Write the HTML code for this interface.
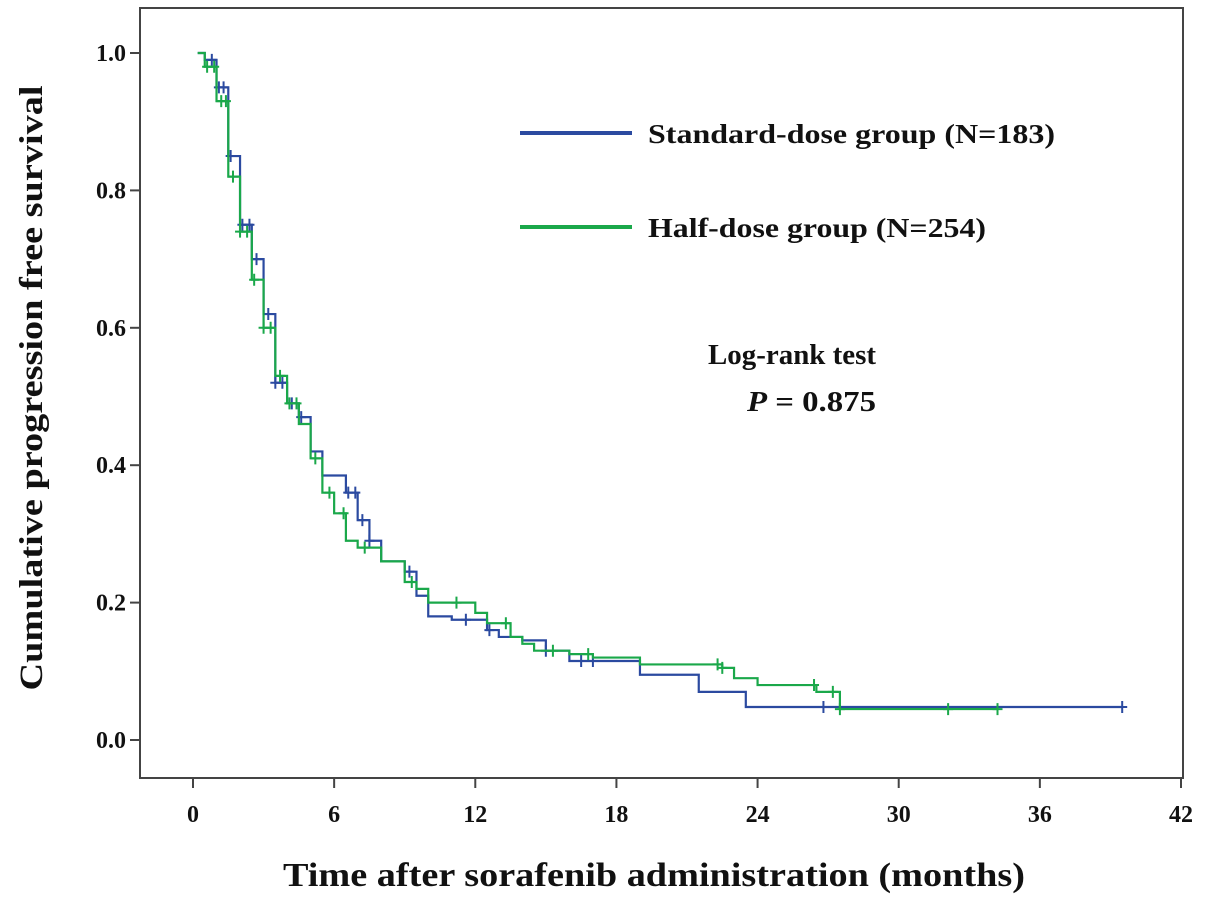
<!DOCTYPE html>
<html><head><meta charset="utf-8"><style>
body{margin:0;background:#fff}
svg text{font-family:"Liberation Serif",serif;font-weight:bold;fill:#111}
</style></head><body>
<svg id="chart" width="1205" height="905" viewBox="0 0 1205 905">
<rect x="140" y="8" width="1043" height="770" fill="#fff" stroke="#444" stroke-width="2"/>
<g id="axes"></g>
<g id="curves"></g>
<g>
<line x1="520" y1="133" x2="632" y2="133" stroke="#2b4aa0" stroke-width="4"/>
<text x="648" y="143" font-size="27" textLength="407" lengthAdjust="spacingAndGlyphs">Standard-dose group (N=183)</text>
<line x1="520" y1="227" x2="632" y2="227" stroke="#1aa84a" stroke-width="4"/>
<text x="648" y="237" font-size="27" textLength="338" lengthAdjust="spacingAndGlyphs">Half-dose group (N=254)</text>
</g>
<text x="708" y="364" font-size="28" textLength="168" lengthAdjust="spacingAndGlyphs">Log-rank test</text>
<text x="747" y="411" font-size="28" textLength="129" lengthAdjust="spacingAndGlyphs"><tspan font-style="italic">P</tspan> = 0.875</text>
<text transform="translate(42,388) rotate(-90)" font-size="33" text-anchor="middle" textLength="605" lengthAdjust="spacingAndGlyphs">Cumulative progression free survival</text>
<text x="654" y="886" font-size="34" text-anchor="middle" textLength="742" lengthAdjust="spacingAndGlyphs">Time after sorafenib administration (months)</text>
</svg>
<script>
const xTicks=[0,6,12,18,24,30,36,42];
const yTicks=[0.0,0.2,0.4,0.6,0.8,1.0];
const stdTimes=[0.2,0.5,1,1.5,2,2.5,3,3.5,4,4.5,5,5.5,6.5,7,7.5,8,9,9.5,10,11,12.5,13,14,15,16,19,21.5,23.5,39.5];
const stdSurv=[1,0.99,0.95,0.85,0.75,0.70,0.62,0.52,0.49,0.47,0.42,0.385,0.36,0.32,0.29,0.26,0.245,0.21,0.18,0.175,0.16,0.15,0.145,0.13,0.115,0.095,0.07,0.048,0.048];
const stdCens=[0.8,1.1,1.3,1.6,2.1,2.4,2.7,3.2,3.5,3.8,4.2,4.6,6.6,6.9,7.2,7.5,9.2,11.6,12.6,15,16.5,17,26.8,39.5];
const halfTimes=[0.2,0.5,1,1.5,2,2.5,3,3.5,4,4.5,5,5.5,6,6.5,7,8,9,9.5,10,12,12.5,13.5,14,14.5,16,17,19,22.5,23,24,26.5,27.5,34.2];
const halfSurv=[1,0.98,0.93,0.82,0.74,0.67,0.60,0.53,0.49,0.46,0.41,0.36,0.33,0.29,0.28,0.26,0.23,0.22,0.20,0.185,0.17,0.15,0.14,0.13,0.125,0.12,0.11,0.105,0.09,0.08,0.07,0.045,0.045];
const halfCens=[0.6,0.9,1.2,1.4,1.7,2.0,2.3,2.6,3.0,3.3,3.7,4.1,4.4,5.2,5.8,6.4,7.3,9.3,11.2,13.3,15.3,16.8,22.3,22.5,26.4,27.2,27.5,32.1,34.2];
const NS="http://www.w3.org/2000/svg";
const X=t=>193+t*(1181-193)/42;
const Y=s=>740-s*687;
function mk(tag,attrs,parent){const e=document.createElementNS(NS,tag);for(const k in attrs)e.setAttribute(k,attrs[k]);parent.appendChild(e);return e;}
const ax=document.getElementById('axes');
xTicks.forEach(t=>{
 const l=mk('line',{x1:X(t),x2:X(t),y1:778,y2:788,stroke:'#444','stroke-width':2},ax);
 
 
 const tx=mk('text',{x:X(t),y:822,'font-size':24,'text-anchor':'middle'},ax);tx.textContent=t;
 
 
});
yTicks.forEach(s=>{
 const l=mk('line',{x1:130,x2:140,y1:Y(s),y2:Y(s),stroke:'#444','stroke-width':2},ax);
 
 
 const tx=mk('text',{x:126,y:Y(s)+8,'font-size':24,'text-anchor':'end'},ax);tx.textContent=s.toFixed(1);
 
 
});
const cv=document.getElementById('curves');
function survAt(times,surv,t){let s=surv[0];for(let i=0;i<times.length;i++){if(times[i]<=t)s=surv[i];}return s;}
function draw(times,surv,cens,color,name){
 let d='M'+X(times[0])+','+Y(surv[0]);
 for(let i=1;i<times.length;i++){d+=' H'+X(times[i])+' V'+Y(surv[i]);}
 const p=mk('path',{d:d,fill:'none',stroke:color,'stroke-width':2.2},cv);
 
 
 cens.forEach(t=>{
  const s=survAt(times,surv,t),cx=X(t),cy=Y(s);
  const c=mk('path',{d:`M${cx-5},${cy} H${cx+5} M${cx},${cy-6} V${cy+6}`,stroke:color,'stroke-width':2},cv);
  
  
 });
}
draw(stdTimes,stdSurv,stdCens,'#2b4aa0','standard-dose');
draw(halfTimes,halfSurv,halfCens,'#1aa84a','half-dose');
</script>
</body></html>
